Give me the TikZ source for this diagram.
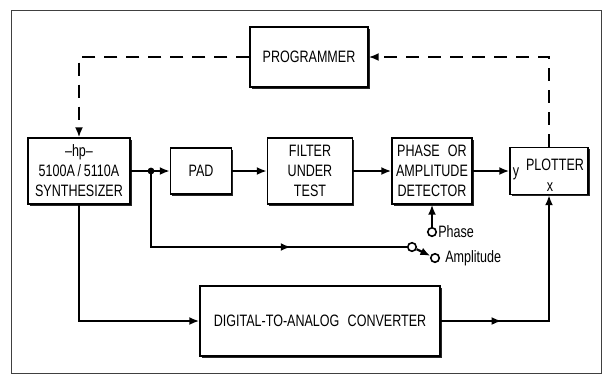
\documentclass[tikz,border=0pt]{standalone}
\usepackage{fontspec}
\setmainfont{Liberation Sans}[FakeStretch=0.76]
\usetikzlibrary{arrows.meta, shadows, decorations.markings}

\tikzset{
  blk/.style={draw, line width=1.4pt, fill=white, inner sep=0pt, align=center,
    drop shadow={shadow xshift=1.6pt, shadow yshift=-1.6pt, opacity=1, fill=black!85}},
  sig/.style={line width=2.2pt},
  ctl/.style={line width=1.9pt, dash pattern=on 13pt off 9pt},
  term/.style={circle, draw, line width=1.6pt, fill=white, minimum size=8.5pt, inner sep=0pt},
  midarrow/.style={postaction={decorate}, decoration={markings,
    mark=at position #1 with {\arrow{Latex[length=10pt,width=8pt]}}}},
}

\begin{document}
\begin{tikzpicture}[x=1pt, y=-1pt, >={Latex[length=10pt,width=8pt]},
  font=\fontsize{16.5}{20}\selectfont]

\useasboundingbox (0,0) rectangle (604,376);

% Frame
\draw[line width=0.9pt, black!75] (11,10) rectangle (601,373);

% Blocks
\node[blk, minimum width=118, minimum height=60] (prog) at (309,57) {PROGRAMMER};
\node[blk, minimum width=102, minimum height=66] (synth) at (79,171)
  {\textendash hp\textendash\\5100A\,/\,5110A\\SYNTHESIZER};
\node[blk, minimum width=61, minimum height=46] (pad) at (201,171) {PAD};
\node[blk, minimum width=85, minimum height=66] (filter) at (310,171) {FILTER\\UNDER\\TEST};
\node[blk, minimum width=80, minimum height=66] (det) at (432,171)
  {PHASE\enspace OR\\AMPLITUDE\\DETECTOR};
\node[blk, minimum width=78, minimum height=47] (plot) at (549,171) {};
\node[blk, minimum width=240, minimum height=70] (dac) at (320,321)
  {DIGITAL-TO-ANALOG\enspace CONVERTER};

% Plotter labels
\node (plotname) at (555,165) {PLOTTER};
\node (ylab) at (516,174) {y};
\node (xlab) at (550,187) {x};

% Points
\coordinate (jn) at (151,171);
\node[term] (sw1) at (412,247) {};
\node[term] (sw2) at (435,258) {};
\node[term] (ph) at (432,232) {};
\node[anchor=west, inner sep=1pt] (phlab) at (ph.east) {Phase};
\node[anchor=west, inner sep=1pt] (amplab) at ([xshift=4pt]sw2.east) {Amplitude};

% Signal path
\draw[sig, ->] (synth.east) -- (pad.west);
\fill (jn) circle (3.4pt);
\draw[sig, ->] (pad.east) -- (filter.west);
\draw[sig, ->] (filter.east) -- (det.west);
\draw[sig, ->] (det.east) -- (plot.west);
\draw[sig, ->] (ph) -- (det.south);

% Branch to switch
\draw[sig, midarrow=0.65] (jn) |- (sw1);
\draw[sig, ->] (sw1) -- (sw2);

% Converter path
\draw[sig, ->] (synth.south) |- (dac.west);
\draw[sig, midarrow=0.26, ->] (dac.east) -| (plot.south);

% Programmer control (dashed)
\draw[ctl, ->] (prog.west) -| (synth.north);
\draw[ctl, ->] (plot.north) |- (prog.east);

\end{tikzpicture}
\end{document}
